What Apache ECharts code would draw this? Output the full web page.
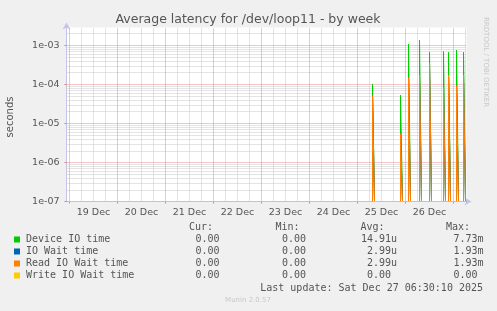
<!DOCTYPE html>
<html>
<head>
<meta charset="utf-8">
<script src="https://cdn.jsdelivr.net/npm/echarts@6/dist/echarts.min.js"></script>
<style>
html,body{margin:0;padding:0;background:#f0f0f0;}
#chart{width:497px;height:311px;}
</style>
</head>
<body>
<div id="chart"></div>
<script>
// ---- data (hours are counted from 18 Dec 2025 00:00) ----
const xStartHour = 22.5;          // left edge of the graph (18 Dec 22:30)
const xEndHour = 222.5;           // right edge of the graph (27 Dec 06:30)
const dayLabels = ['19 Dec','20 Dec','21 Dec','22 Dec','23 Dec','24 Dec','25 Dec','26 Dec'];
const sampleTimes = ['25 Dec 08:00','25 Dec 22:00','26 Dec 02:00','26 Dec 07:30','26 Dec 12:30',
                     '26 Dec 19:30','26 Dec 22:00','27 Dec 02:00','27 Dec 05:30'];
const deviceIOTime   = [1.02e-4, 5.3e-5, 1.08e-3, 1.37e-3, 6.7e-4, 7.0e-4, 6.7e-4, 7.6e-4, 6.7e-4];
const ioWaitTime     = [5.0e-5, 5.4e-6, 1.46e-4, 1.74e-4, 3.6e-4, 8.4e-5, 1.74e-4, 9.0e-5, 1.74e-4];
const readIOWaitTime = [5.0e-5, 5.4e-6, 1.46e-4, 1.74e-4, 3.6e-4, 8.4e-5, 1.74e-4, 9.0e-5, 1.74e-4];
const writeIOWaitTime= [0, 0, 0, 0, 0, 0, 0, 0, 0];
const yTickValues = [1e-7, 1e-6, 1e-5, 1e-4, 1e-3];
const yMin = 1e-7, yMax = 2.89e-3;
const seriesNames = ['Device IO time','IO Wait time','Read IO Wait time','Write IO Wait time'];
const seriesColors = ['#00cc00','#0066b3','#ff8000','#ffcc00'];
const legendCur = ['0.00','0.00','0.00','0.00'];
const legendMin = ['0.00','0.00','0.00','0.00'];
const legendAvg = ['14.91u','2.99u','2.99u','0.00 '];
const legendMax = ['7.73m','1.93m','1.93m','0.00 '];
const lastUpdate = 'Last update: Sat Dec 27 06:30:10 2025';

// ---- helpers ----
function toHour(s){
  const p = s.split(' ');
  const day = parseInt(p[0],10);
  const hm = p[2].split(':');
  return (day-18)*24 + parseInt(hm[0],10) + parseInt(hm[1],10)/60;
}
const slot = 1.0; // width of one drawn sample step, hours
function buildLine(values){
  const pts = [[xStartHour, yMin]];
  sampleTimes.forEach((t,i)=>{
    const h = toHour(t);
    const v = values[i] > 0 ? values[i] : yMin; // zero sits on the floor of the log axis
    pts.push([h - slot/2, yMin],[h - slot/2, v],[h + slot/2, v],[h + slot/2, yMin]);
  });
  pts.push([xEndHour, yMin]);
  return pts;
}
const allValues = [deviceIOTime, ioWaitTime, readIOWaitTime, writeIOWaitTime];

// grid lines
const vMajor = [], vMinor = [];
for (let h = Math.ceil(xStartHour/6)*6; h <= xEndHour; h += 6){
  const seg = {coords:[[h, yMin],[h, yMax]]};
  if (h % 24 === 0) vMajor.push(seg); else vMinor.push(seg);
}
const hMajor = [], hMinor = [];
for (let e = -7; e <= -3; e++){
  hMajor.push({coords:[[xStartHour, Math.pow(10,e)],[xEndHour, Math.pow(10,e)]]});
  for (let m = 2; m <= 9; m++){
    const v = m*Math.pow(10,e);
    if (v < yMax) hMinor.push({coords:[[xStartHour, v],[xEndHour, v]]});
  }
}
const noonHours = dayLabels.map((d,i)=> 36 + i*24);
const midnightHours = []; for (let h=24; h<=xEndHour; h+=24) midnightHours.push(h);

function gridSeries(data, color, dash){
  return {type:'lines', coordinateSystem:'cartesian2d', silent:true, z:1, animation:false,
    lineStyle:{color:color, type:dash, width:1, opacity:1}, data:data};
}

const series = [
  gridSeries(vMinor.concat(hMinor), '#c8c8c8', [1,1]),
  gridSeries(vMajor.concat(hMajor), '#e48c8c', [1,1])
];
allValues.forEach((vals,i)=>{
  series.push({type:'line', name:seriesNames[i], data:buildLine(vals), showSymbol:false,
    symbol:'none', clip:true, z:3+i, lineStyle:{width:1, color:seriesColors[i]}, itemStyle:{color:seriesColors[i]}});
});

const fontSans = 'DejaVu Sans';
const fontMono = 'DejaVu Sans Mono';
const rowY = [239.5, 251.5, 263.5, 275.5];
const graphic = [
  {type:'text', x:248, y:19.5, style:{text:'Average latency for /dev/loop11 - by week', font:'12.5px '+fontSans, fill:'#555', align:'center', verticalAlign:'middle'}},
  {type:'text', x:10, y:117, rotation:Math.PI/2, style:{text:'seconds', font:'10px '+fontSans, fill:'#555', align:'center', verticalAlign:'middle'}},
  {type:'text', x:486, y:17, rotation:-Math.PI/2, style:{text:'RRDTOOL / TOBI OETIKER', font:'7px '+fontSans, fill:'#c8c8c8', align:'left', verticalAlign:'middle'}},
  {type:'text', x:213, y:227.5, style:{text:'Cur:', font:'10px '+fontMono, fill:'#555', align:'right', verticalAlign:'middle'}},
  {type:'text', x:299.5, y:227.5, style:{text:'Min:', font:'10px '+fontMono, fill:'#555', align:'right', verticalAlign:'middle'}},
  {type:'text', x:384.5, y:227.5, style:{text:'Avg:', font:'10px '+fontMono, fill:'#555', align:'right', verticalAlign:'middle'}},
  {type:'text', x:470, y:227.5, style:{text:'Max:', font:'10px '+fontMono, fill:'#555', align:'right', verticalAlign:'middle'}},
  {type:'text', x:483, y:288, style:{text:lastUpdate, font:'10px '+fontMono, fill:'#555', align:'right', verticalAlign:'middle'}},
  {type:'text', x:248, y:300.5, style:{text:'Munin 2.0.57', font:'7px '+fontSans, fill:'#c8c8c8', align:'center', verticalAlign:'middle'}}
];
seriesNames.forEach((n,i)=>{
  const y = rowY[i];
  graphic.push({type:'rect', shape:{x:14, y:y-3, width:6, height:6}, style:{fill:seriesColors[i]}});
  graphic.push({type:'text', x:26, y:y, style:{text:n, font:'10px '+fontMono, fill:'#555', verticalAlign:'middle'}});
  graphic.push({type:'text', x:219.5, y:y, style:{text:legendCur[i], font:'10px '+fontMono, fill:'#555', align:'right', verticalAlign:'middle'}});
  graphic.push({type:'text', x:306, y:y, style:{text:legendMin[i], font:'10px '+fontMono, fill:'#555', align:'right', verticalAlign:'middle'}});
  graphic.push({type:'text', x:397, y:y, style:{text:legendAvg[i], font:'10px '+fontMono, fill:'#555', align:'right', verticalAlign:'middle'}});
  graphic.push({type:'text', x:483.5, y:y, style:{text:legendMax[i], font:'10px '+fontMono, fill:'#555', align:'right', verticalAlign:'middle'}});
});

function fmtExp(v){
  const e = Math.round(Math.log10(v));
  return '1e' + (e<0?'-':'+') + String(Math.abs(e)).padStart(2,'0');
}

const option = {
  backgroundColor:'#f0f0f0',
  animation:false,
  grid:{left:66.5, top:27.5, width:400, height:174, show:true, backgroundColor:'#ffffff', borderWidth:0},
  xAxis:{type:'value', min:xStartHour, max:xEndHour,
    axisLine:{show:true, lineStyle:{color:'#c4c4e8', width:1}, symbol:['none','arrow'], symbolSize:[6,7], symbolOffset:[0,5]},
    axisTick:{show:true, customValues:midnightHours, length:2, lineStyle:{color:'#e08080'}},
    splitLine:{show:false},
    axisLabel:{customValues:noonHours, formatter:(v)=>{const i=Math.round((v-36)/24); return dayLabels[i]||'';},
      fontFamily:fontSans, fontSize:9.5, color:'#555', margin:6}},
  yAxis:{type:'log', logBase:10, min:yMin, max:yMax,
    axisLine:{show:true, lineStyle:{color:'#c4c4e8', width:1}, symbol:['none','arrow'], symbolSize:[6,7], symbolOffset:[0,5]},
    axisTick:{show:true, customValues:yTickValues, length:2, lineStyle:{color:'#e08080'}},
    splitLine:{show:false}, minorSplitLine:{show:false},
    axisLabel:{customValues:yTickValues, formatter:fmtExp, fontFamily:fontSans, fontSize:9.5, color:'#555', margin:7}},
  series:series,
  graphic:graphic
};
const chart = echarts.init(document.getElementById('chart'), null, {renderer:'canvas'});
chart.setOption(option);
</script>
</body>
</html>
